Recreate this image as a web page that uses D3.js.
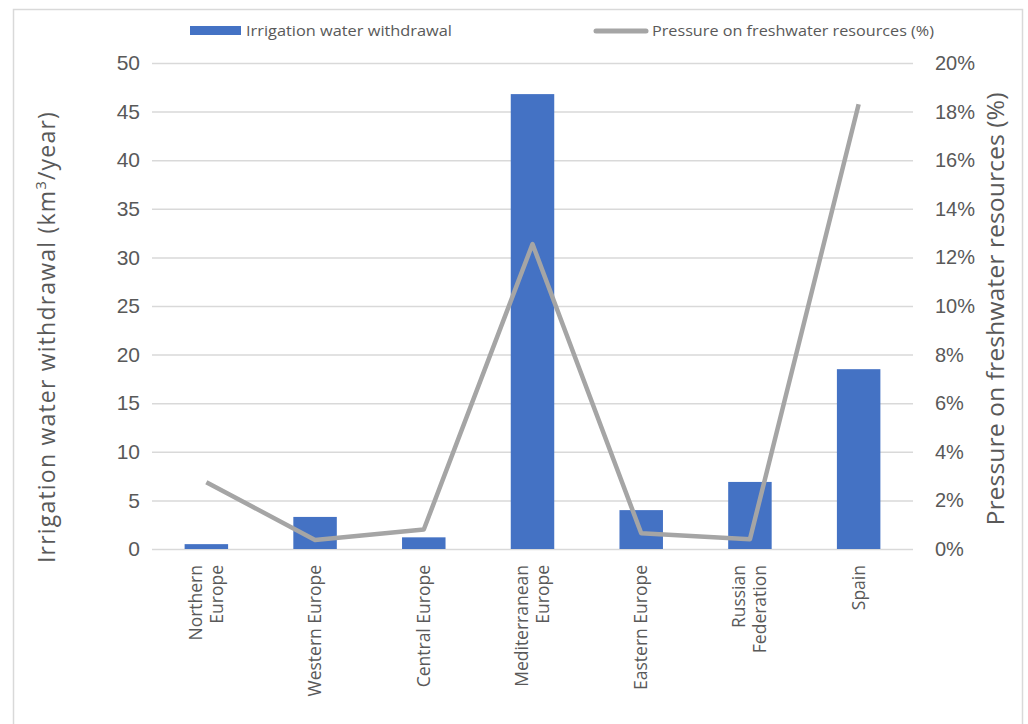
<!DOCTYPE html>
<html>
<head>
<meta charset="utf-8">
<script src="https://cdn.jsdelivr.net/npm/d3@7"></script>
<style>
  body { margin: 0; background: #fff; }
  svg { display: block; font-family: "Open Sans", "Noto Sans", sans-serif; }
</style>
</head>
<body>
<svg id="chart" width="1028" height="724"></svg>
<script>
// Regions and their values
const regions = [
  ["Northern", "Europe"],
  ["Western Europe"],
  ["Central Europe"],
  ["Mediterranean", "Europe"],
  ["Eastern Europe"],
  ["Russian", "Federation"],
  ["Spain"]
];
const withdrawal = [0.5, 3.3, 1.2, 46.8, 4.0, 6.9, 18.5];          // km3/year
const pressure = [0.0275, 0.0037, 0.0080, 0.1255, 0.0065, 0.0040, 0.1830]; // share
const leftTicks = [0, 5, 10, 15, 20, 25, 30, 35, 40, 45, 50];
const rightTicks = [0, 0.02, 0.04, 0.06, 0.08, 0.10, 0.12, 0.14, 0.16, 0.18, 0.20];

const svg = d3.select("#chart");
const plot = { left: 152, right: 913, top: 63, bottom: 549 };
const textColor = "#595959";

// Outer frame
svg.append("rect")
  .attr("x", 13.5).attr("y", 9.5)
  .attr("width", 1009).attr("height", 730)
  .attr("fill", "none").attr("stroke", "#d9d9d9").attr("stroke-width", 1.5);

const keys = regions.map(r => r.join(" "));
const x = d3.scaleBand().domain(keys).range([plot.left, plot.right]).paddingInner(0.6).paddingOuter(0.3);
const yL = d3.scaleLinear().domain([0, 50]).range([plot.bottom, plot.top]);
const yR = d3.scaleLinear().domain([0, 0.20]).range([plot.bottom, plot.top]);

// Horizontal gridlines
svg.append("g")
  .selectAll("line").data(leftTicks).join("line")
  .attr("x1", plot.left).attr("x2", plot.right)
  .attr("y1", d => yL(d) + 0.5).attr("y2", d => yL(d) + 0.5)
  .attr("stroke", "#d9d9d9").attr("stroke-width", 1.5);

// Left axis
const axL = svg.append("g").attr("transform", `translate(${plot.left},0)`)
  .call(d3.axisLeft(yL).tickValues(leftTicks).tickSize(0).tickPadding(12));
axL.select(".domain").remove();
axL.selectAll("text").attr("fill", textColor).attr("font-size", 21);

// Right axis
const axR = svg.append("g").attr("transform", `translate(${plot.right},0)`)
  .call(d3.axisRight(yR).tickValues(rightTicks).tickSize(0).tickPadding(22).tickFormat(d3.format(".0%")));
axR.select(".domain").remove();
axR.selectAll("text").attr("fill", textColor).attr("font-size", 20);

// Bars
svg.append("g")
  .selectAll("rect").data(withdrawal).join("rect")
  .attr("x", (d, i) => x(keys[i]))
  .attr("width", x.bandwidth())
  .attr("y", d => yL(d))
  .attr("height", d => yL(0) - yL(d))
  .attr("fill", "#4472c4");

// Pressure line
const line = d3.line()
  .x((d, i) => x(keys[i]) + x.bandwidth() / 2)
  .y(d => yR(d));
svg.append("path")
  .datum(pressure)
  .attr("d", line)
  .attr("fill", "none")
  .attr("stroke", "#a5a5a5")
  .attr("stroke-width", 4.5)
  .attr("stroke-linejoin", "round");

// Category labels, rotated
const catG = svg.append("g");
regions.forEach((lines, i) => {
  const cx = x(keys[i]) + x.bandwidth() / 2;
  const lh = 21;
  const t = catG.append("text")
    .attr("transform", `translate(${cx},565) rotate(-90)`)
    .attr("text-anchor", "end")
    .attr("fill", textColor)
    .attr("font-size", 17.5);
  lines.forEach((s, j) => {
    t.append("tspan")
      .attr("x", 0)
      .attr("y", (j - (lines.length - 1) / 2) * lh + 6)
      .text(s);
  });
});

// Axis titles
const tl = svg.append("text")
  .attr("transform", "translate(55,337) rotate(-90)")
  .attr("text-anchor", "middle")
  .attr("fill", textColor)
  .attr("font-size", 23)
  .attr("letter-spacing", 1.2);
tl.append("tspan").text("Irrigation water withdrawal (km");
tl.append("tspan").attr("font-size", 15).attr("dy", -9).text("3");
tl.append("tspan").attr("dy", 9).text("/year)");

svg.append("text")
  .attr("transform", "translate(1004,309) rotate(-90)")
  .attr("text-anchor", "middle")
  .attr("fill", textColor)
  .attr("font-size", 23)
  .attr("textLength", 433).attr("lengthAdjust", "spacingAndGlyphs")
  .text("Pressure on freshwater resources (%)");

// Legend
const lg = svg.append("g").attr("font-size", 15).attr("fill", textColor);
lg.append("rect").attr("x", 190).attr("y", 26).attr("width", 51).attr("height", 9).attr("fill", "#4472c4");
lg.append("text").attr("x", 246).attr("y", 36)
  .attr("textLength", 206).attr("lengthAdjust", "spacingAndGlyphs")
  .text("Irrigation water withdrawal");
lg.append("line").attr("x1", 596).attr("x2", 646).attr("y1", 31).attr("y2", 31)
  .attr("stroke", "#a5a5a5").attr("stroke-width", 5).attr("stroke-linecap", "round");
lg.append("text").attr("x", 652).attr("y", 36)
  .attr("textLength", 282).attr("lengthAdjust", "spacingAndGlyphs")
  .text("Pressure on freshwater resources (%)");
</script>
</body>
</html>
